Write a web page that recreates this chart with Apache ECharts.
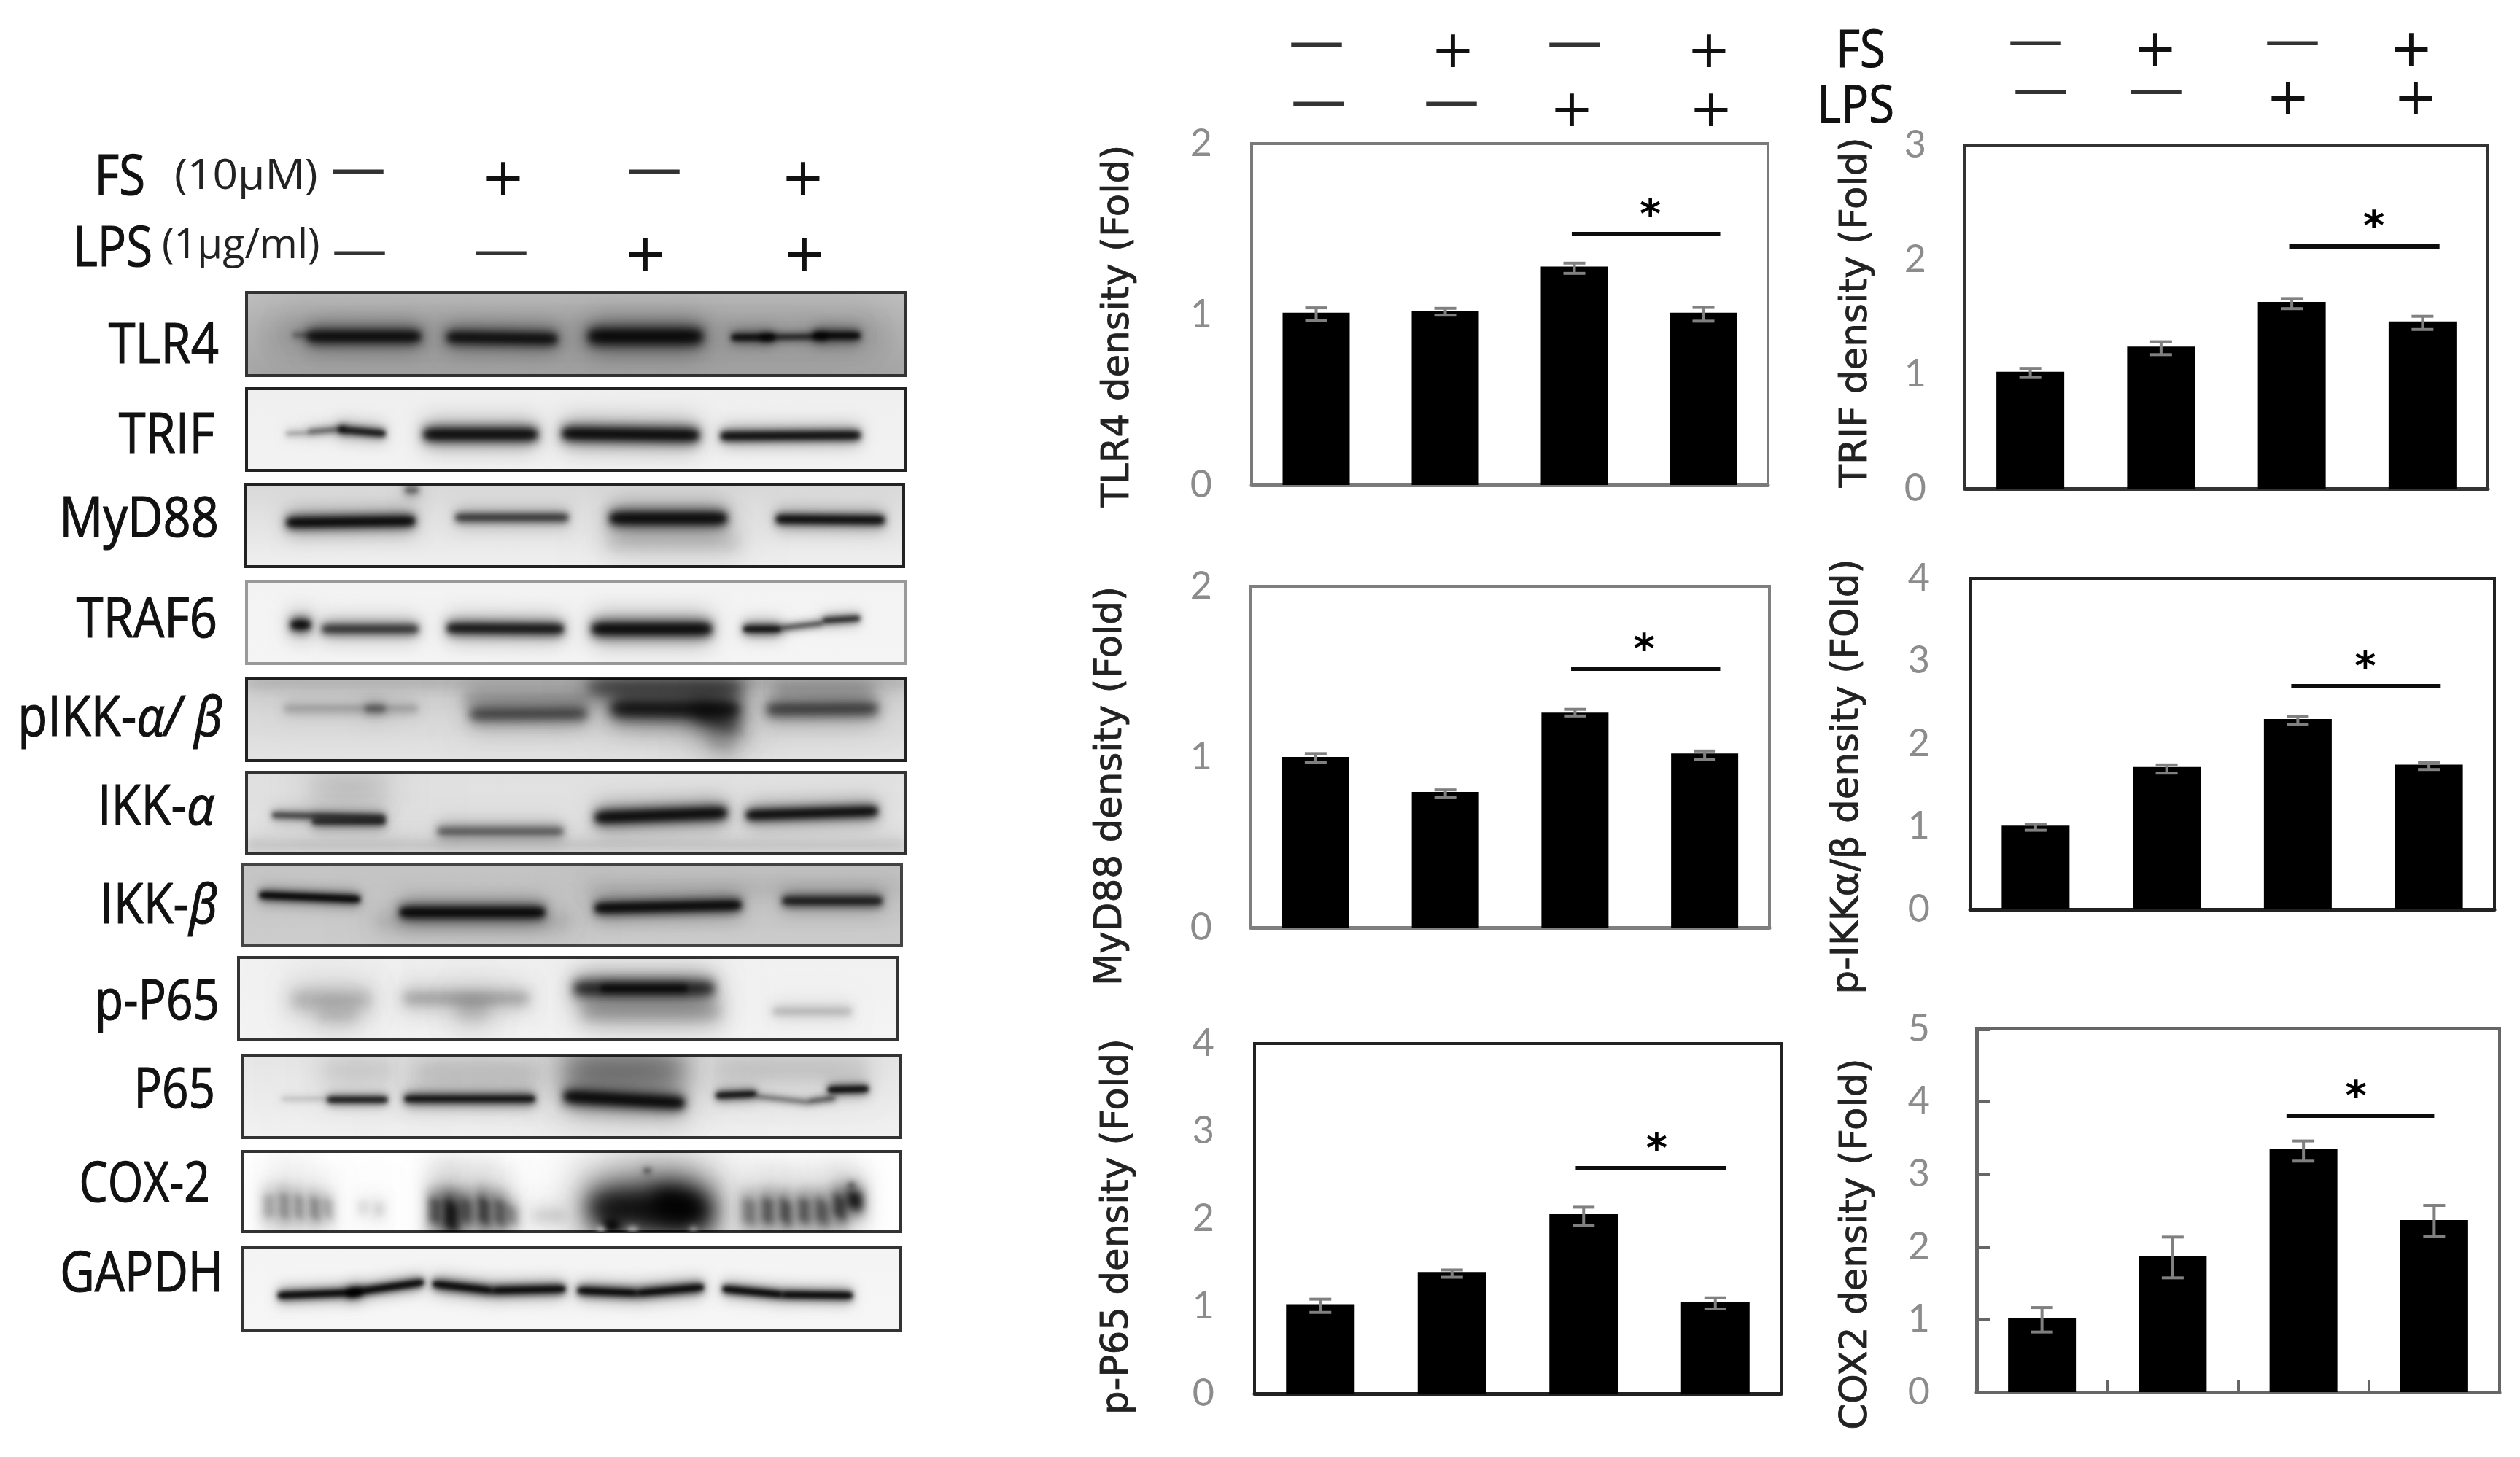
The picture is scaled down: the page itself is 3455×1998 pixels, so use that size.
<!DOCTYPE html>
<html><head><meta charset="utf-8">
<style>html,body{margin:0;padding:0;background:#fff}#c{width:3455px;height:1998px;filter:blur(0.7px)}</style>
<script src="https://cdn.jsdelivr.net/npm/echarts@6/dist/echarts.min.js"></script>
</head><body><div id="c"></div>
<script>
// ---------- data ----------
const categories = ['Control', 'FS', 'LPS', 'FS+LPS'];
const fsSigns  = ['—', '+', '—', '+'];
const lpsSigns = ['—', '—', '+', '+'];

// bar heights, and how far each error bar reaches above and below them
const tlr4  = [1.01, 1.02, 1.28, 1.01];  const tlr4Up  = [0.028, 0.015, 0.02, 0.03];    const tlr4Down  = [0.045, 0.025, 0.04, 0.05];
const trif  = [1.02, 1.24, 1.63, 1.46];  const trifUp  = [0.03, 0.043, 0.03, 0.045];    const trifDown  = [0.05, 0.07, 0.058, 0.07];
const myd88 = [1.00, 0.795, 1.26, 1.02]; const myd88Up = [0.02, 0.012, 0.019, 0.015];   const myd88Down = [0.03, 0.032, 0.02, 0.036];
const pikk  = [1.01, 1.72, 2.30, 1.75];  const pikkUp  = [0.02, 0.026, 0.03, 0.025];    const pikkDown  = [0.055, 0.074, 0.07, 0.06];
const pp65  = [1.02, 1.39, 2.05, 1.05];  const pp65Up  = [0.058, 0.023, 0.08, 0.044];   const pp65Down  = [0.093, 0.061, 0.127, 0.083];
const cox2  = [1.02, 1.87, 3.35, 2.37];  const cox2Up  = [0.144, 0.265, 0.108, 0.2];    const cox2Down  = [0.193, 0.297, 0.17, 0.228];

// significance bars: [from category, to category, height]
const tlr4Sig = [1.98, 3.13, 1.47];
const trifSig = [1.98, 3.13, 2.115];
const myd88Sig = [1.97, 3.12, 1.517];
const pikkSig = [1.95, 3.09, 2.696];
const pp65Sig = [1.94, 3.08, 2.575];
const cox2Sig = [1.87, 3.00, 3.805];

// blot bands, percent of membrane: [x from, x to, y at left, y at right, thickness, density]; a negative density is a pale patch
const bTLR4 = [[3,97,50,50,60,.10],[7,10,51,52,8,.25],[9.4,26.3,53,53,14,.95],[30.5,47,54,56,14,.9],[52,69,53,53,18,1],[73.6,80,54,54,9,.85],[78,88,54,53,6,.7],[86,93,52,52,10,.95]];
const bTRIF = [[6,9.5,55,54,7,.2],[9.4,15,53,49,8,.4],[14,21,50,55,10,.8],[27,44,56,56,15,1],[48,68.5,55,57,16,1],[72,93,58,57,11,.95]];
const bMyD88 = [[24.3,26.3,6,6,12,.4],[6.4,25.7,46,44,13,1],[32,49,40,40,11,.6],[55.5,73,41,41,16,1],[55,75,70,70,30,.1],[80.7,97,42,43,11,.95]];
const bTRAF6 = [[6.8,9.6,53,53,14,1],[11.5,26,58,58,13,.65],[30.5,48,57,58,14,.85],[52.5,70.4,58,58,16,1],[75.4,81,58,58,10,.9],[81,87.4,57,51,6,.55],[87.4,93,48,45,8,.7]];
const bPIKK = [[0,100,6,6,20,.08],[5.7,26,37,37,14,.14],[18,21,37,37,12,.3],[34,51.5,44,43,18,.5],[33,52,25,25,25,.14],[55.5,74.5,37,38,22,.85],[52,75,12,12,28,.45],[68,74.5,40,60,32,.5],[70,74,75,85,30,.12],[79,95.6,38,37,18,.55],[80,95,15,15,25,.12]];
const bIKKa = [[0,100,90,90,20,.08],[10,21,20,20,50,.1],[3.9,21,53,56,9,.5],[10,21,61,61,10,.6],[29,48,73,73,13,.42],[53,72.7,56,50,15,1],[75.9,95.6,53,48,13,.95]];
const bIKKb = [[2.7,17.8,38,43,9,1],[24,45.8,59,59,14,1],[53.6,75.6,54,50,13,1],[82,97,45,45,12,.75],[20,50,70,70,30,.08],[52,100,30,30,30,.05]];
const bPP65 = [[8,20,52,52,30,.18],[12,18,72,72,25,.1],[25,44,50,50,22,.2],[33,38,65,65,35,.14],[51,72,38,38,20,.75],[55,68,38,38,8,.6],[52,73,66,66,30,.22],[81,93,66,66,14,.14]];
const bP65 = [[12,23,20,20,40,.08],[26,45,22,22,40,.12],[49,67,18,18,55,.38],[72,95,18,18,40,.1],[6,13,53,53,4,.15],[13,22,54,54,8,.8],[24.7,44.4,53,53,10,.88],[49,67,50,58,15,1],[72,78,49,47,8,.9],[78,86,50,57,5,.4],[86,90,56,52,5,.55],[89,95,42,41,8,.95]];
const bCOX2 = [[3.2,5,68,68,46,.24],[5.6,7.2,66,70,50,.3],[7.8,9.4,66,72,46,.28],[10.2,11.8,68,74,44,.32],[12.2,13.8,68,74,38,.22],[17.6,19.2,70,70,26,.08],[20,21.6,72,72,26,.1],
  [28.4,30.2,72,76,50,.55],[30.7,32.7,74,84,56,.95],[33,35,72,76,48,.55],[35.8,37.6,70,78,52,.65],[38.2,40,72,80,50,.5],[40,41.8,76,82,36,.3],[44,49,80,80,24,.1],
  [53,71,70,74,50,1],[55,57,92,92,15,1],[63,69,62,72,36,1],[54,55,97,97,6,-.5],[58.6,60,97,97,6,-.4],[68,69,97,97,5,-.4],
  [76,78,72,78,50,.4],[78.9,80.7,72,76,50,.52],[81.6,83.4,70,80,48,.58],[84.4,86.2,72,76,48,.52],[87,89,70,80,48,.55],[89.8,91.6,64,74,46,.65],[92,94,58,64,32,.95],[92,93,42,42,8,.3],[61,62,24,24,6,.4]];
const bGAPDH = [[5.5,18,58,54,9,1],[16,27.5,55,42,9,1],[29,38,44,52,10,1],[38,49,52,50,10,1],[51,60,52,55,10,1],[60,70,55,48,10,1],[73,82,50,57,9,1],[82,92.6,57,58,9,1]];

// ---------- layout and styles ----------
const blots = [
 {label:'TLR4',  b:bTLR4,  l:338,t:401, w:904,h:114,bg:['#c2c2c2','#a9a9a9'],bd:'#333'},
 {label:'TRIF',  b:bTRIF,  l:338,t:533, w:904,h:112,bg:['#efefef','#f3f3f3'],bd:'#222'},
 {label:'MyD88', b:bMyD88, l:336,t:665, w:903,h:112,bg:['#d8d8d8','#f0f0f0'],bd:'#222'},
 {label:'TRAF6', b:bTRAF6, l:338,t:797, w:904,h:113,bg:['#f3f3f3','#f5f5f5'],bd:'#999'},
 {label:'pIKK',  b:bPIKK,  l:338,t:930, w:904,h:113,bg:['#d0d0d0','#e4e4e4'],bd:'#222'},
 {label:'IKKa',  b:bIKKa,  l:338,t:1059,w:904,h:111,bg:['#e0e0e0','#e6e6e6'],bd:'#333'},
 {label:'IKKb',  b:bIKKb,  l:332,t:1185,w:904,h:112,bg:['#c4c4c4','#cdcdcd'],bd:'#444'},
 {label:'pP65',  b:bPP65,  l:327,t:1313,w:904,h:112,bg:['#f1f1f1','#f4f4f4'],bd:'#333'},
 {label:'P65',   b:bP65,   l:332,t:1447,w:903,h:113,bg:['#e6e6e6','#f2f2f2'],bd:'#333'},
 {label:'COX2',  b:bCOX2,  l:332,t:1579,w:903,h:110,bg:['#ffffff','#ffffff'],bd:'#333'},
 {label:'GAPDH', b:bGAPDH, l:332,t:1711,w:903,h:113,bg:['#f4f4f4','#f6f6f6'],bd:'#333'}
];

const panels = [
 {title:'TLR4 density (Fold)',  vals:tlr4, up:tlr4Up, down:tlr4Down, sig:tlr4Sig, max:2, l:1716,t:197, w:708,h:468,gap:156,shift:16, bd:'#7a7a7a',lab:1648,star:6},
 {title:'TRIF density (Fold)',  vals:trif, up:trifUp, down:trifDown, sig:trifSig, max:3, l:2694,t:199, w:717,h:471,gap:122,shift:-6, bd:'#333',   lab:2627,star:13},
 {title:'MyD88 density (Fold)', vals:myd88,up:myd88Up,down:myd88Down,sig:myd88Sig,max:2, l:1715,t:804, w:711,h:468,gap:165,shift:40, bd:'#7f7f7f',lab:1648,star:-2},
 {title:'p-IKKα/β density (FOld)',vals:pikk,up:pikkUp,down:pikkDown,sig:pikkSig,max:4,l:2701,t:793, w:719,h:454,gap:141,shift:45, bd:'#222',   lab:2632,star:-1},
 {title:'p-P65 density (Fold)', vals:pp65, up:pp65Up, down:pp65Down, sig:pp65Sig, max:4, l:1720,t:1431,w:722,h:480,gap:161,shift:11, bd:'#222',   lab:1651,star:8},
 {title:'COX2 density (Fold)',  vals:cox2, up:cox2Up, down:cox2Down, sig:cox2Sig, max:5, l:2710,t:1411,w:717,h:498,gap:138,shift:46, bd:'#666',   lab:2632,star:-6, ticks:true}
];

const grid = [], xAxis = [], yAxis = [], series = [], elements = [];
const TITLE_FONT = 'DejaVu Sans', NUM_FONT = 'Lato', LABEL_FONT = 'Open Sans';

panels.forEach(function (p, i) {
  grid.push({left:p.l, top:p.t, width:p.w, height:p.h, show:true, borderColor:p.bd, borderWidth:4,
             backgroundColor:'#fff', containLabel:false, outerBoundsMode:'none'});
  xAxis.push({type:'category', gridIndex:i, data:categories, boundaryGap:true,
    axisLabel:{show:false},
    axisLine:{show:true, lineStyle:{color:p.bd, width:5}},
    axisTick:{show:!!p.ticks, inside:true, length:17, alignWithLabel:false, lineStyle:{color:p.bd, width:4}}});
  yAxis.push({type:'value', gridIndex:i, min:0, max:p.max, interval:1,
    name:p.title, nameLocation:'middle', nameGap:p.gap, nameRotate:90, nameMoveOverlap:false,
    nameTextStyle:{fontFamily:TITLE_FONT, fontSize:51.5, color:'#222', textBorderColor:'#222', textBorderWidth:0.8,
      padding: p.shift > 0 ? [0, 2*p.shift, 0, 0] : [0, 0, 0, -2*p.shift]},
    splitLine:{show:false},
    axisLine:{show:!!p.ticks, lineStyle:{color:p.bd, width:5}},
    axisTick:{show:!!p.ticks, inside:true, length:19, lineStyle:{color:p.bd, width:5}},
    axisLabel:{color:'#8c8c8c', fontFamily:NUM_FONT, fontWeight:400, fontSize:52, margin:p.l-p.lab-14, align:'right'}});
  series.push({type:'bar', xAxisIndex:i, yAxisIndex:i, data:p.vals, barWidth:Math.round(p.w*0.13),
    itemStyle:{color:'#000'}, animation:false, silent:true, z:3});
  series.push({type:'custom', xAxisIndex:i, yAxisIndex:i, z:5, animation:false, silent:true,
    data:p.vals.map(function (v, k) { return [k, v]; }),
    renderItem:function (params, api) {
      const k = params.dataIndex;
      const hi = api.coord([k, p.vals[k]+p.up[k]]);
      const lo = api.coord([k, p.vals[k]-p.down[k]]);
      const st = {stroke:'#808080', lineWidth:4, fill:null};
      return {type:'group', children:[
        {type:'line', shape:{x1:hi[0],y1:hi[1],x2:lo[0],y2:lo[1]}, style:st},
        {type:'line', shape:{x1:hi[0]-15,y1:hi[1],x2:hi[0]+15,y2:hi[1]}, style:st},
        {type:'line', shape:{x1:lo[0]-15,y1:lo[1],x2:lo[0]+15,y2:lo[1]}, style:st}]};
    }});
  series.push({type:'custom', xAxisIndex:i, yAxisIndex:i, z:6, animation:false, silent:true,
    data:[[Math.floor(p.sig[0]), p.sig[2]]],
    renderItem:function (params, api) {
      const band = api.size([1, 0])[0];
      const f = Math.floor(p.sig[0]), t = Math.floor(p.sig[1]);
      const a = api.coord([f, p.sig[2]]);
      const b = api.coord([t, p.sig[2]]);
      const x0 = a[0] + (p.sig[0]-f)*band, x1 = b[0] + (p.sig[1]-t)*band;
      return {type:'group', children:[
        {type:'line', shape:{x1:x0,y1:a[1],x2:x1,y2:a[1]}, style:{stroke:'#0d0d0d', lineWidth:6, fill:null}},
        {type:'text', style:{text:'*', x:(x0+x1)/2+p.star, y:a[1]-24, fill:'#000', font:'bold 56px "DejaVu Sans"', align:'center', verticalAlign:'middle'}}]};
    }});
});

blots.forEach(function (bl, n) {
  const i = panels.length + n;
  grid.push({left:bl.l, top:bl.t, width:bl.w, height:bl.h, show:true, borderColor:bl.bd, borderWidth:4,
    containLabel:false, outerBoundsMode:'none',
    backgroundColor:{type:'linear',x:0,y:0,x2:0,y2:1,colorStops:[{offset:0,color:bl.bg[0]},{offset:1,color:bl.bg[1]}]}});
  xAxis.push({type:'value', gridIndex:i, min:0, max:100, show:false});
  yAxis.push({type:'value', gridIndex:i, min:0, max:100, inverse:true, show:false});
  series.push({type:'custom', xAxisIndex:i, yAxisIndex:i, z:2, clip:true, animation:false, silent:true,
    data:bl.b,
    renderItem:function (params, api) {
      const OFF = 5000;
      const p0 = api.coord([api.value(0), api.value(2)]);
      const p1 = api.coord([api.value(1), api.value(3)]);
      const th = api.size([0, api.value(4)])[1];
      const d = api.value(5);
      const ink = d < 0 ? '255,255,255' : '0,0,0';
      const dens = Math.abs(d);
      const sz = Math.min(th, (p1[0]-p0[0])*1.2);
      const quad = function (t) {
        return [[p0[0]-OFF,p0[1]-t/2],[p1[0]-OFF,p1[1]-t/2],[p1[0]-OFF,p1[1]+t/2],[p0[0]-OFF,p0[1]+t/2]];
      };
      const soft = function (t, a, blur) {
        return {type:'polygon', shape:{points:quad(t)},
          style:{fill:'#000', shadowColor:'rgba('+ink+','+a+')', shadowBlur:blur, shadowOffsetX:OFF, shadowOffsetY:0}};
      };
      return {type:'group', children:[
        soft(th*2.4, dens*0.3, Math.max(sz > 14 ? 26 : 12, sz*1.7)),
        soft(th*1.1, dens*0.9, Math.max(8, sz*0.9)),
        soft(th*0.6, dens*0.8, Math.max(5, sz*0.5))]};
    }});
});

// ---------- text annotations ----------
function txt(text, x, y, font, fill, align, sx, rich, sw) {
  const e = {type:'text', x:x, y:y, z:20, silent:true, scaleX:sx||1,
    style:{text:text, font:font, fill:fill, align:align||'center', verticalAlign:'middle'}};
  if (sw) { e.style.stroke = fill; e.style.lineWidth = sw; }
  if (rich) e.style.rich = rich;
  elements.push(e);
}
const F76 = '76px "'+LABEL_FONT+'"';
const g = {g:{font:'italic 76px "'+LABEL_FONT+'"', fill:'#111', stroke:'#111', lineWidth:1.2}};
[['TLR4',300,473,.88],['TRIF',294,596,.88],['MyD88',300,711,.88],['TRAF6',298,849,.88],['pIKK-{g|α/ β}',305,984,.88],
 ['IKK-{g|α}',294,1106,.88],['IKK-{g|β}',298,1241,.88],['p-P65',301,1373,.84],['P65',295,1494,.84],['COX-2',288,1623,.82],['GAPDH',306,1746,.86]]
 .forEach(function (r) { txt(r[0], r[1], r[2]+3, F76, '#111', 'right', r[3], g, 1.2); });

txt('FS', 199, 245, F76, '#111', 'right', 0.86, null, 1.2);
txt('(10μM)', 239, 243, '56px "'+LABEL_FONT+'"', '#222', 'left', 1.08);
txt('LPS', 209, 343, F76, '#111', 'right', 0.86, null, 1.2);
txt('(1μg/ml)', 222, 338, '56px "'+LABEL_FONT+'"', '#222', 'left', 1.0);
txt('FS', 2551, 71, '72px "'+LABEL_FONT+'"', '#111', 'center', 0.88, null, 1.2);
txt('LPS', 2544, 147, '72px "'+LABEL_FONT+'"', '#111', 'center', 0.88, null, 1.2);

function sign(s, x, yPlus, yDash) {
  if (s === '+') txt('+', x, yPlus, '72px "DejaVu Sans"', '#111');
  else txt('—', x, yDash, '77px "DejaVu Sans"', '#333');
}
const signRows = [
 [fsSigns,  [491,690,897,1101], 248, 236],
 [lpsSigns, [493,687,885,1103], 352, 348],
 [fsSigns,  [1805,1992,2159,2343], 73, 62],
 [lpsSigns, [1808,1990,2155,2346], 154, 143],
 [fsSigns,  [2791,2955,3143,3306], 71, 60],
 [lpsSigns, [2798,2956,3137,3312], 138, 127]
];
signRows.forEach(function (r) { r[0].forEach(function (s, k) { sign(s, r[1][k], r[2], r[3]); }); });

const chart = echarts.init(document.getElementById('c'));
chart.setOption({animation:false, backgroundColor:'#fff', grid:grid, xAxis:xAxis, yAxis:yAxis, series:series,
  graphic:{elements:elements}});
</script></body></html>
